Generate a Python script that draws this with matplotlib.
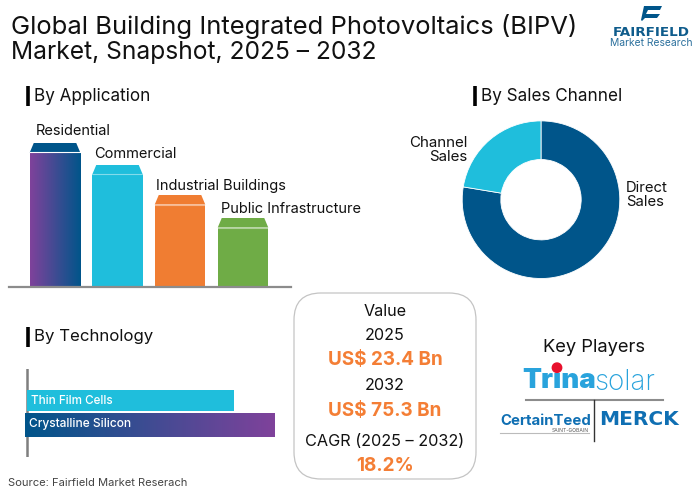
import numpy as np
import matplotlib
matplotlib.use('Agg')
import matplotlib.pyplot as plt
from matplotlib.colors import LinearSegmentedColormap
from matplotlib.patches import FancyBboxPatch, Polygon, Circle

plt.rcParams['font.family'] = ['Inter', 'DejaVu Sans']

# data
app_labels = ['Residential', 'Commercial', 'Industrial Buildings', 'Public Infrastructure']
app_values = [144, 122, 92, 69]
app_colors = ['#00558a', '#1fbedc', '#f07d32', '#6fac46']

channel_labels = ['Direct\nSales', 'Channel\nSales']
channel_values = [77.6, 22.4]
channel_colors = ['#00558a', '#1fbedc']

tech_labels = ['Thin Film Cells', 'Crystalline Silicon']
tech_values = [207, 247.5]

W, H = 700, 491
purple = '#7f429b'
navy = '#00558a'
orange = '#f47e35'
ink = '#111111'
grad = LinearSegmentedColormap.from_list('pb', [purple, navy])


def px_axes(x0, y0, x1, y1):
    # axes placed by pixel box, y0 is the top edge
    a = fig.add_axes([x0 / W, 1 - y1 / H, (x1 - x0) / W, (y1 - y0) / H])
    a.axis('off')
    return a


fig = plt.figure(figsize=(7, 4.91), dpi=100)

# background layer in pixel coords, for texts and logos
bg = px_axes(0, 0, W, H)
bg.set_xlim(0, W)
bg.set_ylim(H, 0)

bg.text(11, 26, 'Global Building Integrated Photovoltaics (BIPV)', fontsize=18.45, color=ink, va='center')
bg.text(11, 52.5, 'Market, Snapshot, 2025 – 2032', fontsize=17.7, color=ink, va='center')

# section headings
for x, y, s, fs in [(34, 96, 'By Application', 12.3), (481, 96, 'By Sales Channel', 12.3), (34, 337, 'By Technology', 12.1)]:
    bg.text(x, y, s, fontsize=fs, color=ink, va='center')
    bg.plot([x - 5.7, x - 5.7], [y - 10.3, y + 10.3], color='black', lw=2.6, solid_capstyle='butt')

# bars by application, one y unit is one pixel
ax = px_axes(9, 132, 291, 287)
bar_x = [55, 117.5, 180, 243]
bar_w = 50.5
cap = 9.5
bars = ax.bar(bar_x, np.array(app_values) - cap, width=bar_w, color=app_colors, zorder=2)
for i, b in enumerate(bars):
    v = app_values[i]
    l, r = bar_x[i] - bar_w / 2, bar_x[i] + bar_w / 2
    ax.add_patch(Polygon([(l, v - cap), (l + 4, v), (r - 4, v), (r, v - cap)], color=app_colors[i], lw=0, zorder=2))
    ax.plot([l, r], [v - cap, v - cap], color='white', lw=0.8, alpha=0.45 if i else 1, zorder=3)
im = ax.imshow(np.linspace(0, 1, 128).reshape(1, -1), cmap=grad, aspect='auto', zorder=2.5,
               extent=(bar_x[0] - bar_w / 2, bar_x[0] + bar_w / 2, 0, app_values[0] - cap))
im.set_clip_path(bars[0])
ax.set_xlim(9, 291)
ax.set_ylim(0, 155)
ax.axhline(0, color='#8c8c8c', lw=1.6, zorder=4, clip_on=False)

label_pos = [(35.7, 131), (94.3, 154), (156.3, 186), (221.3, 209)]
for (x, y), s in zip(label_pos, app_labels):
    bg.text(x, y, s, fontsize=10.5, color=ink, va='center')

# donut
ax2 = px_axes(460, 118.7, 622, 280.7)
ax2.pie(channel_values, colors=channel_colors, startangle=90, counterclock=False,
        radius=1.0, wedgeprops=dict(width=0.49, edgecolor='white', linewidth=0.6))
ax2.set_xlim(-1.028, 1.028)
ax2.set_ylim(-1.028, 1.028)
bg.text(625.7, 195, channel_labels[0], fontsize=10.7, color=ink, ha='left', va='center', linespacing=1.05)
bg.text(467.7, 150, channel_labels[1], fontsize=10.9, color=ink, ha='right', va='center', multialignment='right', linespacing=1.05)

# bars by technology, one x unit is one pixel from the axis
ax3 = px_axes(20, 369, 290, 457)
hb = ax3.barh([31.5, 56], [tech_values[0], tech_values[1] + 2.3], height=[21.7, 24.3],
              left=[0, -2.3], color=['#1fbedc', navy], zorder=2)
im2 = ax3.imshow(np.linspace(1, 0, 128).reshape(1, -1), cmap=grad, aspect='auto', zorder=2.5,
                 extent=(-2.3, tech_values[1], 68.15, 43.85))
im2.set_clip_path(hb[1])
ax3.set_xlim(-7, 263)
ax3.set_ylim(88, 0)
ax3.axvline(0, color='#7f7f7f', lw=1.8, zorder=1)
ax3.text(4, 31.5, tech_labels[0], fontsize=8.4, color='white', va='center', fontweight='medium', zorder=5)
ax3.text(2, 54.5, tech_labels[1], fontsize=8.6, color='white', va='center', fontweight='medium', zorder=5)

bg.text(8, 483, 'Source: Fairfield Market Reserach', fontsize=8.05, color='#444444', va='center')

# value box
bg.add_patch(FancyBboxPatch((294 + 22, 293 + 22), 182 - 44, 186 - 44, boxstyle='round,pad=22,rounding_size=27',
                            fc='white', ec='#c4c4c4', lw=0.9))
cx = 385
box_lines = [('Value', 311.5, 11.6, ink, 'normal'), ('2025', 335, 11.6, ink, 'normal'),
             ('US$ 23.4 Bn', 360, 13.6, orange, 'bold'), ('2032', 386, 11.6, ink, 'normal'),
             ('US$ 75.3 Bn', 411, 13.6, orange, 'bold'), ('CAGR (2025 – 2032)', 441, 11.7, ink, 'normal'),
             ('18.2%', 466, 13.6, orange, 'bold')]
for s, y, fs, c, w in box_lines:
    bg.text(cx, y, s, fontsize=fs, color=c, fontweight=w, ha='center', va='center')

# key players
bg.text(594, 347, 'Key Players', fontsize=13.2, color=ink, ha='center', va='center')
bg.text(522, 380.5, 'Trina', fontsize=20, color='#29a3dc', fontweight='black', va='center')
bg.text(594, 382, 'solar', fontsize=20, color='#29a3dc', fontweight='light', va='center')
bg.add_patch(Circle((557, 367.7), 4.7, color='#e8112d', zorder=3))
bg.plot([526, 663], [400, 400], color='#8c8c8c', lw=1.5)
bg.plot([594.3, 594.3], [400, 441], color='#333333', lw=1)
bg.text(500, 420.7, 'CertainTeed', fontsize=10.75, color='#0f6fb3', fontweight='bold', va='center')
bg.text(589, 430.2, 'SAINT-GOBAIN', fontsize=3.6, color='#555555', ha='right', va='center')
bg.plot([500, 589], [433.3, 433.3], color='#bbbbbb', lw=0.8)
bg.text(599, 419.5, 'MERCK', fontsize=14.5, family='DejaVu Sans', color='#0f6fb3', fontweight='bold', va='center')

# fairfield logo
bg.add_patch(Polygon([(644, 6), (662, 6), (660, 10), (648, 10), (646, 14), (660, 14), (657, 18), (645, 18),
                      (642, 21), (641, 20)], color='#00558a', lw=0))
bg.text(651, 32, 'FAIRFIELD', fontsize=9.7, family='DejaVu Sans', color='#0f5c8c', fontweight='bold', ha='center', va='center')
bg.text(651, 43, 'Market Research', fontsize=7.4, color='#2a6f9c', ha='center', va='center')

fig.savefig('out.png', dpi=100)
